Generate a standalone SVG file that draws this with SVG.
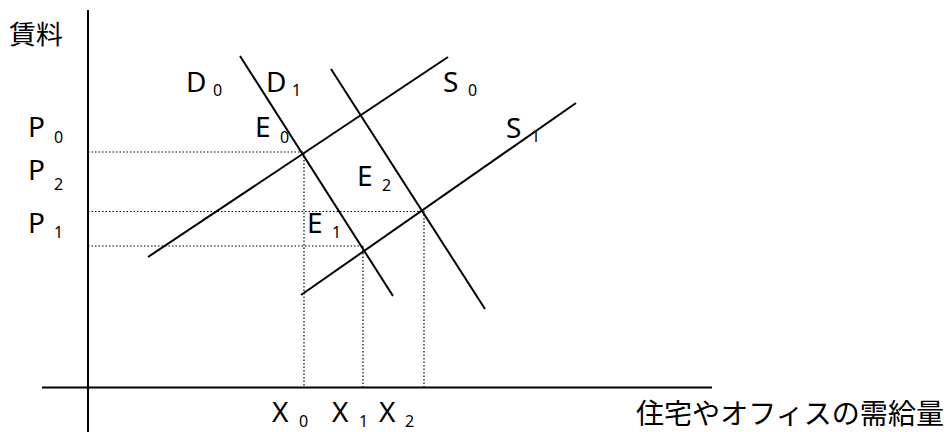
<svg xmlns="http://www.w3.org/2000/svg" width="952" height="432" viewBox="0 0 952 432">
<style>
.ax{stroke:#000;stroke-width:2;fill:none}
.ln{stroke:#000;stroke-width:2;fill:none;stroke-linecap:butt}
.dt{stroke:#000;stroke-width:1.2;fill:none;stroke-dasharray:1.5 2}
.lb{font-family:"Noto Sans","DejaVu Sans",sans-serif;font-size:28px;fill:#000}
.sb{font-size:16px}
.jp{font-family:"Noto Sans CJK JP",sans-serif;fill:#000}
</style>
<rect width="952" height="432" fill="#fff"/>
<g id="axes">
<line class="ax" x1="88" y1="10" x2="88" y2="432"/>
<line class="ax" x1="42" y1="387.5" x2="712" y2="387.5"/>
</g>
<g id="guides">
<line class="dt" x1="88" y1="152" x2="303" y2="152"/>
<line class="dt" x1="88" y1="211.5" x2="424" y2="211.5"/>
<line class="dt" x1="88" y1="246" x2="363" y2="246"/>
<line class="dt" x1="304" y1="153" x2="304" y2="387"/>
<line class="dt" x1="363" y1="246" x2="363" y2="387"/>
<line class="dt" x1="424" y1="211" x2="424" y2="387"/>
</g>
<g id="connectors">
<line id="D0" class="ln" x1="240" y1="56" x2="393" y2="296"/>
<line id="D1" class="ln" x1="331" y1="69" x2="485" y2="309"/>
<line id="S0" class="ln" x1="148" y1="257" x2="448" y2="57"/>
<line id="S1" class="ln" x1="301" y1="295" x2="576" y2="103"/>
</g>
<g id="labels">
<text class="jp" x="9" y="44" font-size="26" textLength="54" lengthAdjust="spacingAndGlyphs">賃料</text>
<text class="jp" x="636" y="424" font-size="28" textLength="308" lengthAdjust="spacingAndGlyphs">住宅やオフィスの需給量</text>
<text class="lb" x="186" y="92">D<tspan class="sb" x="213" y="96">0</tspan></text>
<text class="lb" x="266" y="92">D<tspan class="sb" x="292" y="96">1</tspan></text>
<text class="lb" x="443" y="92">S<tspan class="sb" x="468" y="96">0</tspan></text>
<text class="lb" x="506" y="138">S<tspan class="sb" x="531" y="142">1</tspan></text>
<text class="lb" x="255" y="137">E<tspan class="sb" x="280" y="143">0</tspan></text>
<text class="lb" x="357" y="186">E<tspan class="sb" x="382" y="191">2</tspan></text>
<text class="lb" x="307" y="233">E<tspan class="sb" x="332" y="238">1</tspan></text>
<text class="lb" x="28" y="137">P<tspan class="sb" x="54" y="143">0</tspan></text>
<text class="lb" x="28" y="180">P<tspan class="sb" x="54" y="190">2</tspan></text>
<text class="lb" x="28" y="233">P<tspan class="sb" x="54" y="238">1</tspan></text>
<text class="lb" x="272" y="422">X<tspan class="sb" x="299" y="427">0</tspan></text>
<text class="lb" x="332" y="422">X<tspan class="sb" x="359" y="427">1</tspan></text>
<text class="lb" x="379" y="422">X<tspan class="sb" x="405" y="427">2</tspan></text>
</g>
</svg>
